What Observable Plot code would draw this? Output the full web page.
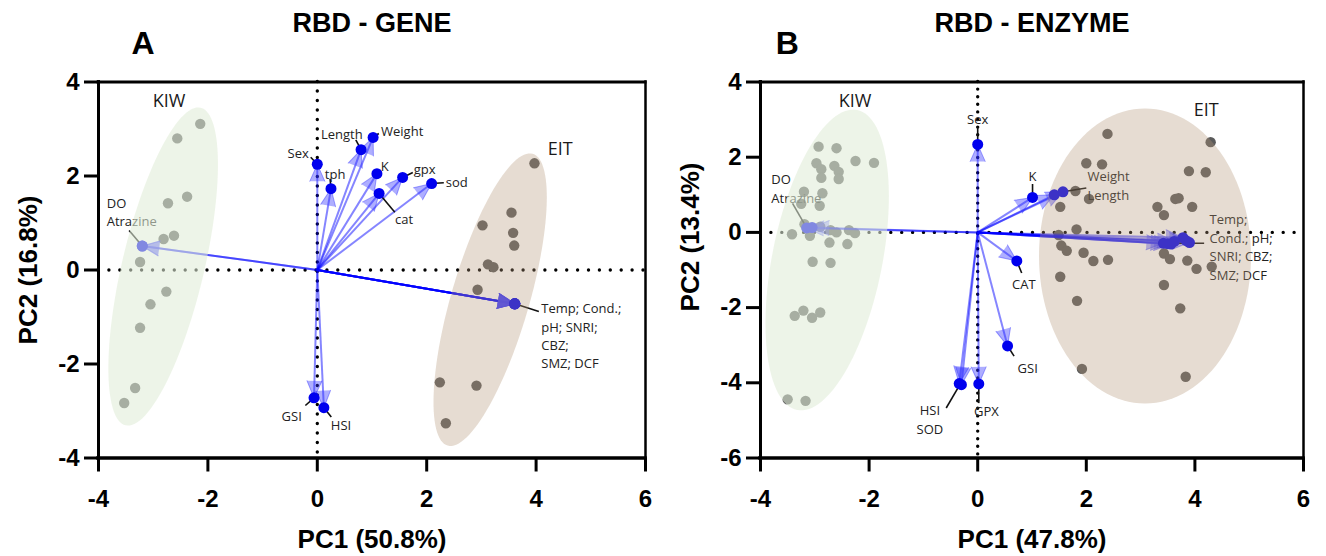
<!DOCTYPE html>
<html><head><meta charset="utf-8">
<script src="https://cdn.jsdelivr.net/npm/d3@7"></script>
<script src="https://cdn.jsdelivr.net/npm/@observablehq/plot@0.6"></script>
<style>
html,body{margin:0;padding:0;background:#fff;}
#wrap{position:relative;width:1326px;height:556px;overflow:hidden;background:#fff;}
#wrap > div{position:absolute;top:0;}
</style></head><body>
<div id="wrap"><div id="pa" style="left:0"></div><div id="pb" style="left:663px"></div></div>
<script>
// ---------------- DATA ----------------
const xTicks = [-4, -2, 0, 2, 4, 6];
const yTicksA = [-4, -2, 0, 2, 4];
const yTicksB = [-6, -4, -2, 0, 2, 4];

// Panel A: RBD - GENE loadings
const geneVars = ["Sex","tph","Length","Weight","K","gpx","cat","sod","DO","Atrazine","Temp","Cond.","pH","SNRI","CBZ","SMZ","DCF","GSI","HSI"];
const genePC1 = [0.00, 0.25, 0.80, 1.02, 1.09, 1.56, 1.13, 2.09, -3.20, -3.20, 3.61, 3.61, 3.61, 3.61, 3.61, 3.61, 3.61, -0.06, 0.12];
const genePC2 = [2.25, 1.73, 2.56, 2.82, 2.05, 1.97, 1.63, 1.84, 0.51, 0.51, -0.72, -0.72, -0.72, -0.72, -0.72, -0.72, -0.72, -2.72, -2.93];
// Panel A scores
const geneKIW_PC1 = [-2.14, -2.56, -2.38, -2.73, -2.62, -2.81, -3.24, -2.76, -3.05, -3.24, -3.33, -3.53];
const geneKIW_PC2 = [3.11, 2.80, 1.56, 1.42, 0.73, 0.66, 0.17, -0.46, -0.73, -1.23, -2.51, -2.83];
const geneEIT_PC1 = [3.97, 3.55, 3.02, 3.58, 3.60, 3.12, 3.22, 2.93, 2.24, 2.91, 2.35];
const geneEIT_PC2 = [2.27, 1.22, 0.95, 0.79, 0.52, 0.12, 0.06, -0.42, -2.39, -2.46, -3.26];

// Panel B: RBD - ENZYME loadings
const enzVars = ["Sex","K","Weight","Length","CAT","GSI","GPX","HSI","SOD","DO","Atrazine","Temp","Cond.","pH","SNRI","CBZ","SMZ","DCF"];
const enzPC1 = [0.00, 1.01, 1.57, 1.41, 0.72, 0.55, 0.02, -0.34, -0.30, -3.15, -3.05, 3.42, 3.50, 3.56, 3.62, 3.78, 3.84, 3.90];
const enzPC2 = [2.34, 0.93, 1.08, 1.00, -0.76, -3.02, -4.03, -4.02, -4.05, 0.12, 0.13, -0.29, -0.30, -0.31, -0.24, -0.14, -0.22, -0.27];
// Panel B scores
const enzKIW_PC1 = [-2.93,-2.60,-2.97,-2.88,-2.88,-2.64,-2.56,-2.56,-2.25,-1.91,-3.20,-2.86,-3.25,-2.91,-3.19,-3.42,-3.09,-2.90,-2.71,-2.60,-2.37,-2.26,-2.73,-2.40,-3.04,-2.71,-3.37,-3.21,-3.05,-2.90,-3.50,-3.17];
const enzKIW_PC2 = [2.28,2.24,1.84,1.68,1.45,1.77,1.61,1.42,1.90,1.85,1.08,1.04,0.76,0.71,0.22,-0.05,-0.09,0.15,0.06,0.00,0.06,-0.02,-0.27,-0.31,-0.78,-0.81,-2.22,-2.08,-2.27,-2.13,-4.44,-4.48];
const enzEIT_PC1 = [2.39,4.29,2.00,2.29,3.89,4.20,1.80,2.05,1.52,3.64,3.70,3.31,3.43,3.95,1.82,1.49,1.54,1.64,1.95,2.13,2.40,3.43,3.54,3.86,4.03,4.31,1.52,3.43,1.83,3.73,1.92,3.83];
const enzEIT_PC2 = [2.62,2.40,1.84,1.81,1.63,1.60,1.10,0.89,0.68,0.89,0.91,0.68,0.46,0.68,0.08,-0.07,-0.35,-0.49,-0.54,-0.76,-0.73,-0.56,-0.71,-0.75,-0.97,-0.91,-1.18,-1.40,-1.82,-2.02,-3.63,-3.84];

// Confidence ellipses: centre and two half-axis vectors (PC units)
const geneEllipses = [
  {group: "KIW", cx: -2.818, cy: 0.074, ax: 0.686, ay: 3.379, bx: 0.730, by: -0.200},
  {group: "EIT", cx: 3.160, cy: -0.632, ax: 0.778, ay: 3.104, bx: 0.684, by: -0.232}
];
const enzEllipses = [
  {group: "KIW", cx: -2.772, cy: -0.734, ax: 0.552, ay: 3.989, bx: 0.993, by: -0.287},
  {group: "EIT", cx: 3.081, cy: -0.628, ax: 0.0, ay: 3.923, bx: 1.952, by: 0.0}
];

// Variable labels (annotation anchor, leader line from loading tip)
const geneLabels = [
  {text: "DO\nAtrazine", x: -3.85, y: 1.255, anchor: "start", from: [-3.20, 0.51], to: [-3.44, 0.84]},
  {text: "Sex", x: -0.155, y: 2.51, anchor: "end", from: [0, 2.25], to: [-0.12, 2.40]},
  {text: "tph", x: 0.137, y: 2.06, anchor: "start", from: [0.25, 1.73], to: [0.234, 1.94]},
  {text: "Length", x: 0.448, y: 2.919, anchor: "middle", from: [0.80, 2.56], to: [0.704, 2.77]},
  {text: "Weight", x: 1.165, y: 2.968, anchor: "start", from: [1.02, 2.82], to: [1.124, 2.904]},
  {text: "K", x: 1.16, y: 2.238, anchor: "start", from: null, to: null},
  {text: "gpx", x: 1.764, y: 2.174, anchor: "start", from: [1.56, 1.97], to: [1.746, 2.074]},
  {text: "cat", x: 1.42, y: 1.111, anchor: "start", from: [1.13, 1.63], to: [1.417, 1.23]},
  {text: "sod", x: 2.349, y: 1.883, anchor: "start", from: [2.09, 1.84], to: [2.313, 1.855]},
  {text: "GSI", x: -0.283, y: -3.08, anchor: "end", from: [-0.06, -2.72], to: [-0.218, -2.883]},
  {text: "HSI", x: 0.247, y: -3.272, anchor: "start", from: [0.12, -2.93], to: [0.256, -3.13]},
  {text: "Temp; Cond.;\npH; SNRI;\nCBZ;\nSMZ; DCF", x: 4.095, y: -1.379, anchor: "start", from: [3.61, -0.72], to: [4.05, -0.883]}
];
const enzLabels = [
  {text: "Sex", x: 0, y: 3.04, anchor: "middle", from: [0, 2.34], to: [0, 2.80]},
  {text: "HSI\nSOD", x: -0.88, y: -4.95, anchor: "middle", from: [-0.32, -4.03], to: [-0.58, -4.67]},
  {text: "GPX", x: 0.16, y: -4.72, anchor: "middle", from: [0.02, -4.03], to: [0.02, -4.54]},
  {text: "GSI", x: 0.92, y: -3.57, anchor: "middle", from: [0.55, -3.02], to: [0.67, -3.29]},
  {text: "CAT", x: 0.85, y: -1.354, anchor: "middle", from: [0.72, -0.76], to: [0.81, -1.08]},
  {text: "K", x: 1.01, y: 1.527, anchor: "middle", from: [1.01, 0.93], to: [1.01, 1.287]},
  {text: "Weight\nLength", x: 2.02, y: 1.274, anchor: "start", from: [1.57, 1.08], to: [2.0, 1.18]},
  {text: "Temp;\nCond.; pH;\nSNRI; CBZ;\nSMZ; DCF", x: 4.27, y: -0.367, anchor: "start", from: [3.56, -0.29], to: [4.17, -0.29]},
  {text: "DO\nAtrazine", x: -3.80, y: 1.194, anchor: "start", from: [-3.15, 0.12], to: [-3.41, 0.774]}
];
const geneGroupLabels = [{text: "KIW", x: -2.71, y: 3.59}, {text: "EIT", x: 4.44, y: 2.56}];
const enzGroupLabels = [{text: "KIW", x: -2.26, y: 3.50}, {text: "EIT", x: 4.21, y: 3.24}];

// ---------------- DRAWING ----------------
const SMALL_FONT = "'Open Sans', 'Noto Sans', sans-serif";
const BOLD_FONT = "'Liberation Sans', Arial, sans-serif";
const groupStyle = {
  KIW: {fill: "#e0ecd7", opacity: 0.576},
  EIT: {fill: "#b49678", opacity: 0.333}
};

function ellipsePts(e) {
  return d3.range(0, 360, 3).map(a => {
    const t = a * Math.PI / 180;
    return {x: e.cx + Math.cos(t) * e.ax + Math.sin(t) * e.bx,
            y: e.cy + Math.cos(t) * e.ay + Math.sin(t) * e.by};
  });
}

function panel(cfg) {
  const W = cfg.width, H = 556, mt = 81.5, mb = 98.5;
  const kx = (W - cfg.ml - cfg.mr) / (xTicks[xTicks.length - 1] - xTicks[0]);
  const ky = (H - mt - mb) / (cfg.yTicks[cfg.yTicks.length - 1] - cfg.yTicks[0]);
  const vecs = cfg.names.map((n, i) => ({
    name: n, x: cfg.pc1[i], y: cfg.pc2[i],
    rot: Math.atan2(cfg.pc1[i] * kx, cfg.pc2[i] * ky) * 180 / Math.PI
  }));
  const obs = [];
  cfg.kiw[0].forEach((v, i) => obs.push({x: v, y: cfg.kiw[1][i]}));
  cfg.eit[0].forEach((v, i) => obs.push({x: v, y: cfg.eit[1][i]}));
  const xmin = xTicks[0], xmax = xTicks[xTicks.length - 1];
  const ymin = cfg.yTicks[0], ymax = cfg.yTicks[cfg.yTicks.length - 1];

  const labelMarks = ["start", "middle", "end"].map(anc =>
    Plot.text(cfg.labels.filter(d => d.anchor === anc), {
      x: "x", y: "y", text: "text", textAnchor: anc, lineAnchor: "middle",
      fontFamily: SMALL_FONT, fontSize: 13, lineHeight: 1.42, fill: "#222"
    }));

  return Plot.plot({
    width: W, height: H,
    marginLeft: cfg.ml, marginRight: cfg.mr, marginTop: mt, marginBottom: mb,
    style: {fontFamily: BOLD_FONT, background: "white", overflow: "visible"},
    x: {domain: [xmin, xmax], label: null},
    y: {domain: [ymin, ymax], label: null},
    marks: [
      // dotted zero lines
      Plot.ruleY([0], {stroke: "black", strokeWidth: 3.4, strokeDasharray: "0 10.9", strokeLinecap: "round"}),
      Plot.ruleX([0], {stroke: "black", strokeWidth: 3.4, strokeDasharray: "0 " + cfg.vDot, strokeLinecap: "round"}),
      // observation scores
      Plot.dot(obs, {x: "x", y: "y", r: 5.2, fill: "#5a5a5a"}),
      // loading vectors
      Plot.link(vecs, {x1: d => 0, y1: d => 0, x2: "x", y2: "y", stroke: "#0000ff", strokeOpacity: 0.48, strokeWidth: 2}),
      Plot.vector(vecs, {x: "x", y: "y", rotate: "rot", length: 17, r: 7.5, shape: "spike", anchor: "end",
        fill: "#3434ff", fillOpacity: 0.4, stroke: "#3434ff", strokeOpacity: 0.45, strokeWidth: 1}),
      Plot.link(cfg.labels.filter(d => d.from), {x1: d => d.from[0], y1: d => d.from[1], x2: d => d.to[0], y2: d => d.to[1],
        stroke: "#111", strokeWidth: 1.6}),
      Plot.dot(vecs, {x: "x", y: "y", r: 5.5, fill: "#0000ee"}),
      ...labelMarks,
      // group ellipses drawn translucent on top
      ...cfg.ellipses.map(e => Plot.line(ellipsePts(e), {x: "x", y: "y", curve: "linear-closed",
        fill: groupStyle[e.group].fill, fillOpacity: groupStyle[e.group].opacity, stroke: "none"})),
      Plot.text(cfg.groups, {x: "x", y: "y", text: "text", fontFamily: SMALL_FONT, fontSize: 18, fill: "#1a1a1a"}),
      // frame
      Plot.ruleY([ymax], {stroke: "black", strokeWidth: 3, strokeLinecap: "square"}),
      Plot.ruleX([xmax], {stroke: "black", strokeWidth: 2.5, strokeLinecap: "square"}),
      Plot.ruleX([xmin], {stroke: "black", strokeWidth: 3, strokeLinecap: "square"}),
      Plot.ruleY([ymin], {stroke: "black", strokeWidth: 3.6, strokeLinecap: "square"}),
      Plot.axisX(xTicks, {tickSize: 14, tickPadding: 18, strokeWidth: 3, tickFormat: d => String(d),
        fontSize: 24, fontWeight: "bold", fill: "black", label: null}),
      Plot.axisY(cfg.yTicks, {tickSize: 14, tickPadding: 5, strokeWidth: 3, tickFormat: d => String(d),
        fontSize: 24, fontWeight: "bold", fill: "black", label: null}),
      // titles & axis labels
      Plot.text([cfg.title], {text: d => d, frameAnchor: "top", dy: -59, lineAnchor: "middle",
        fontSize: 27, fontWeight: "bold", fill: "black"}),
      Plot.text([cfg.letter], {text: d => d, frameAnchor: "top-left", dx: cfg.letterDx, dy: -37.8, lineAnchor: "middle",
        textAnchor: "middle", fontSize: 32, fontWeight: "bold", fill: "black"}),
      Plot.text([cfg.xLabel], {text: d => d, frameAnchor: "bottom", dy: 81.5, lineAnchor: "middle",
        fontSize: 26, fontWeight: "bold", fill: "black"}),
      Plot.text([cfg.yLabel], {text: d => d, frameAnchor: "left", dx: -70, dy: cfg.yLabelDy, rotate: -90, lineAnchor: "middle",
        textAnchor: "middle", fontSize: 26, fontWeight: "bold", fill: "black"})
    ]
  });
}

document.getElementById("pa").appendChild(panel({
  width: 663, ml: 98, mr: 18, yTicks: yTicksA, vDot: 9.5,
  names: geneVars, pc1: genePC1, pc2: genePC2,
  kiw: [geneKIW_PC1, geneKIW_PC2], eit: [geneEIT_PC1, geneEIT_PC2],
  ellipses: geneEllipses, labels: geneLabels, groups: geneGroupLabels,
  title: "RBD - GENE", letter: "A", letterDx: 44.5, xLabel: "PC1 (50.8%)", yLabel: "PC2 (16.8%)", yLabelDy: 0
}));
document.getElementById("pb").appendChild(panel({
  width: 663, ml: 97, mr: 23, yTicks: yTicksB, vDot: 7.6,
  names: enzVars, pc1: enzPC1, pc2: enzPC2,
  kiw: [enzKIW_PC1, enzKIW_PC2], eit: [enzEIT_PC1, enzEIT_PC2],
  ellipses: enzEllipses, labels: enzLabels, groups: enzGroupLabels,
  title: "RBD - ENZYME", letter: "B", letterDx: 26.7, xLabel: "PC1 (47.8%)", yLabel: "PC2 (13.4%)", yLabelDy: -33
}));
</script>
</body></html>
